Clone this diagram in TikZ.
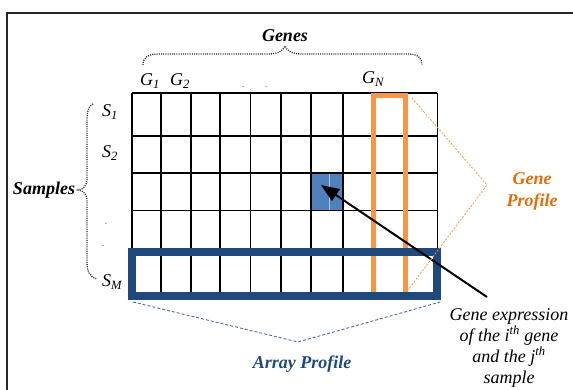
\documentclass[tikz,border=0pt]{standalone}
\usepackage{fontspec}
\setmainfont{Liberation Serif}
\usetikzlibrary{arrows.meta}
\definecolor{cellblue}{HTML}{4F81BD}
\definecolor{cellline}{HTML}{A9C4E6}
\definecolor{arrayblue}{HTML}{1F497D}
\definecolor{arraydash}{HTML}{4A6CA3}
\definecolor{geneorange}{HTML}{F79646}
\definecolor{genetext}{HTML}{E46C0A}
\tikzset{
  lbl/.style={inner sep=0pt, anchor=base, font=\fontsize{18}{21}\selectfont\itshape},
  title/.style={inner sep=0pt, anchor=base, font=\fontsize{18}{21}\selectfont\bfseries\itshape},
  tinydot/.style={inner sep=0pt, anchor=base, font=\fontsize{8}{8}\selectfont},
  gridthick/.style={line width=1.8pt},
  gridthin/.style={line width=1pt},
  bracedots/.style={line width=1.3pt, dash pattern=on 1pt off 1.2pt, black!85},
}
\begin{document}
\begin{tikzpicture}[x=1pt,y=-1pt]
\useasboundingbox (0,0) rectangle (573,390);

% frame
\draw[line width=2pt, black!85] (7,390) -- (7,13) -- (573,13);

% highlighted cell
\fill[cellblue] (312,173) rectangle (343,211);
\draw[cellline, line width=0.7pt] (329,174) -- (329,210);

% expression matrix grid
\foreach \x in {132,161,191,220,281,311,343,373,406}
  \draw[gridthick] (\x,93) -- (\x,295);
\foreach \x in {250,437}
  \draw[gridthin] (\x,93) -- (\x,295);
\foreach \y in {93,136,173,250,295}
  \draw[gridthick] (132,\y) -- (437,\y);
\draw[gridthin] (132,211) -- (437,211);

% gene profile column and array profile row
\draw[geneorange, line width=5.5pt] (373.7,95.3) rectangle (405.7,296);
\draw[arrayblue, line width=7.7pt] (132.3,252) rectangle (437.2,296);

% column labels
\node[lbl, anchor=base west] (g1) at (140,86) {G\textsubscript{1}};
\node[lbl, anchor=base west] (g2) at (170,86) {G\textsubscript{2}};
\node[tinydot] (gd1) at (243,88) {.};
\node[tinydot] (gd2) at (266,88) {.};
\node[lbl, anchor=base west] (gn) at (362,84) {G\textsubscript{N}};

% row labels
\node[lbl, anchor=base west] (s1) at (102,117) {S\textsubscript{1}};
\node[lbl, anchor=base west] (s2) at (102,158) {S\textsubscript{2}};
\node[tinydot] (sd1) at (106,225) {.};
\node[tinydot] (sd2) at (103,247) {.};
\node[lbl, anchor=base west] (sm) at (102,287) {S\textsubscript{M}};

% group titles
\node[title] (genes) at (285,42) {Genes};
\node[title] (samples) at (44,195) {Samples};
\node[title, text=genetext] (gp1) at (532,185) {Gene};
\node[title, text=genetext] (gp2) at (532,207) {Profile};
\node[title, text=arrayblue] (ap) at (302,368) {Array Profile};

% dotted braces
\draw[bracedots] (143,65) .. controls (143,57) and (148,54) .. (160,54)
  -- (268,54) .. controls (278,54) and (283,51) .. (285,46)
  .. controls (287,51) and (292,54) .. (302,54)
  -- (408,54) .. controls (418,54) and (422,58) .. (422,65);
\draw[bracedots] (93,104) .. controls (88,106) and (87,112) .. (87,122)
  -- (87,178) .. controls (87,186) and (84,189) .. (78,190)
  .. controls (84,191) and (87,194) .. (87,202)
  -- (87,262) .. controls (87,272) and (90,277) .. (97,279);

% annotation of a single entry
\node[lbl, anchor=base] (ge1) at (509,320) {Gene expression};
\node[lbl, anchor=base] (ge2) at (509,341) {of the i\textsuperscript{th} gene};
\node[lbl, anchor=base] (ge3) at (509,362) {and the j\textsuperscript{th}};
\node[lbl, anchor=base] (ge4) at (509,383) {sample};
\coordinate (tail) at (487,297);
\coordinate (tip) at (321,185);
\draw[line width=2pt, -{Triangle[length=18pt,width=14pt]}] (tail) -- (tip);

% profile callouts
\draw[geneorange, line width=0.8pt, dash pattern=on 2pt off 1.5pt]
  (412,98) -- (487,185) -- (408,290);
\draw[arraydash, line width=0.9pt, dash pattern=on 3pt off 2pt]
  (133,302) -- (298,342) -- (440,302);
\end{tikzpicture}
\end{document}
